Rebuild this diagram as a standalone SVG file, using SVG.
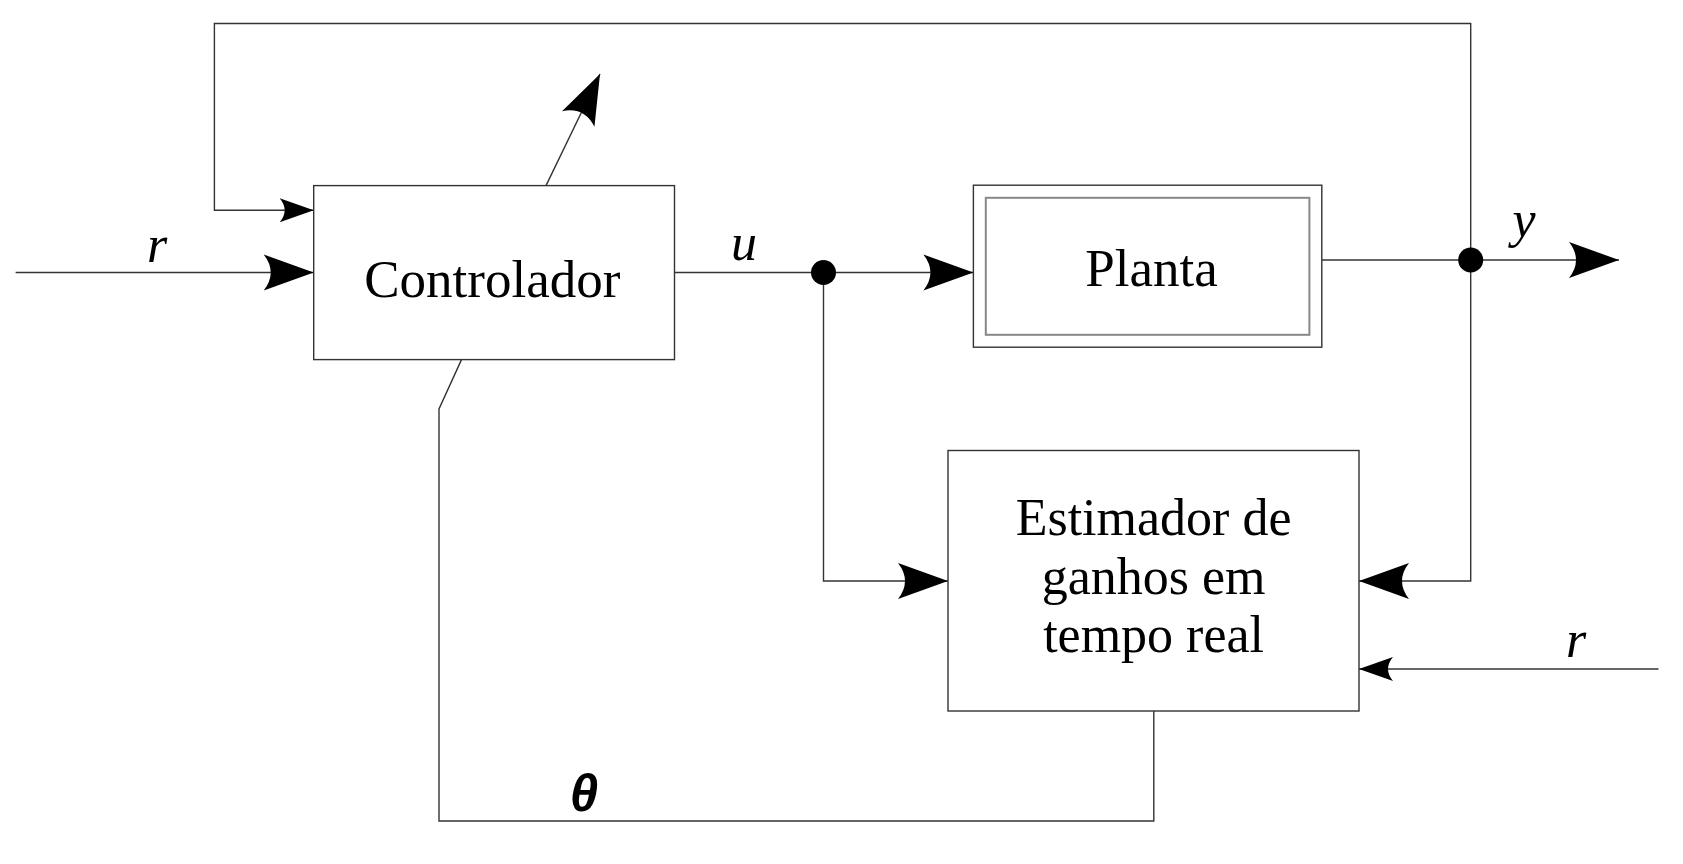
<svg xmlns="http://www.w3.org/2000/svg" width="1683" height="864" viewBox="0 0 1683 864">
<style>
.box{fill:#fff;stroke:#333;stroke-width:1.4}
.inner{fill:none;stroke:#888;stroke-width:2}
.ln{fill:none;stroke:#333;stroke-width:1.4}
.t{font-family:"Liberation Serif","Times New Roman",serif;font-size:53px;fill:#000;text-anchor:middle}
.lab{font-family:"Liberation Serif","Times New Roman",serif;font-style:italic;font-size:52px;fill:#000;text-anchor:middle}
.th{font-family:"Liberation Sans",Arial,sans-serif;font-style:italic;font-weight:bold;font-size:51px;fill:#000;text-anchor:middle}
.dot{fill:#000}
</style>
<defs>
<marker id="ab" markerUnits="userSpaceOnUse" viewBox="-52 -20 54 40" markerWidth="54" markerHeight="40" refX="0" refY="0" orient="auto" overflow="visible">
<path d="M0,0 L-50,-18 Q-36,0 -50,18 Z" fill="#000"/>
</marker>
<marker id="as" markerUnits="userSpaceOnUse" viewBox="-36 -14 38 28" markerWidth="38" markerHeight="28" refX="0" refY="0" orient="auto" overflow="visible">
<path d="M0,0 L-34,-12 Q-24,0 -34,12 Z" fill="#000"/>
</marker>
</defs>
<g id="connectors">
<path class="ln" d="M15.6,272.5 H313.7" marker-end="url(#ab)"/>
<path class="ln" d="M1470.7,260 V23.5 H214.4 V210.3 H313.7" marker-end="url(#as)"/>
<path class="ln" d="M674.5,272.5 H973.4" marker-end="url(#ab)"/>
<path class="ln" d="M823.5,272.5 V581 H948" marker-end="url(#ab)"/>
<path class="ln" d="M1322,260 H1619" marker-end="url(#ab)"/>
<path class="ln" d="M1470.7,260 V581 H1359" marker-end="url(#ab)"/>
<path class="ln" d="M1658.5,669 H1359" marker-end="url(#as)"/>
<path class="ln" d="M1153.8,711 V821 H439 V409 L461.5,359.6"/>
<path class="ln" d="M546,185.6 L600,74" marker-end="url(#ab)"/>
<circle class="dot" cx="823.5" cy="272.5" r="12.5"/>
<circle class="dot" cx="1470.7" cy="260" r="12.5"/>
<text class="lab" x="157" y="261.7">r</text>
<text class="lab" x="744" y="260">u</text>
<text class="lab" x="1524" y="237">y</text>
<text class="lab" x="1576" y="657">r</text>
<text class="th" x="584" y="811">θ</text>
</g>
<g id="controlador">
<rect class="box" x="313.7" y="185.6" width="360.8" height="174"/>
<text class="t" x="492.3" y="296.7">Controlador</text>
</g>
<g id="planta">
<rect class="box" x="973.4" y="185.2" width="348.4" height="162"/>
<rect class="inner" x="985.8" y="197.8" width="323.6" height="137"/>
<text class="t" x="1151.6" y="286">Planta</text>
</g>
<g id="estimador">
<rect class="box" x="948" y="450.5" width="411" height="260.5"/>
<text class="t" x="1153.6" y="535" style="font-size:52px">Estimador de</text>
<text class="t" x="1153.6" y="593.5" style="font-size:52px">ganhos em</text>
<text class="t" x="1153.6" y="652" style="font-size:52px">tempo real</text>
</g>
</svg>
